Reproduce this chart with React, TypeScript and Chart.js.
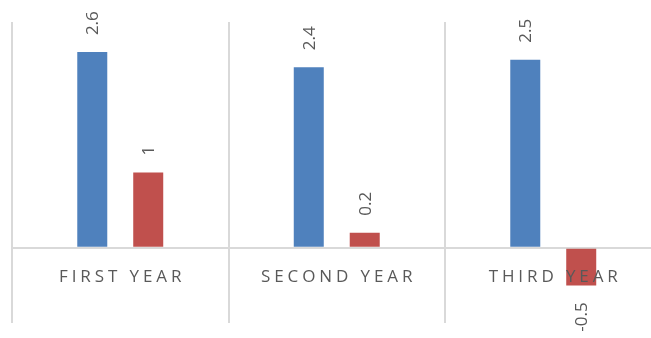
import React, { useEffect, useRef } from "react";
import { Chart, registerables } from "chart.js";

Chart.register(...registerables);

const categories = ["FIRST YEAR", "SECOND YEAR", "THIRD YEAR"];
const seriesBlue = [2.6, 2.4, 2.5];
const seriesRed = [1, 0.2, -0.5];
const yMin = -1;
const yMax = 3;

const TEXT_COLOR = "#595959";
const GRID_COLOR = "#D9D9D9";
const FONT_FAMILY = "'Open Sans', sans-serif";
const LETTER_SPACING = 3.9;

const labelPlugin = {
  id: "customLabels",
  afterDatasetsDraw(chart: any) {
    const ctx: CanvasRenderingContext2D = chart.ctx;
    const xScale = chart.scales.x;
    const yScale = chart.scales.y;
    const zeroY = yScale.getPixelForValue(0);
    ctx.save();
    ctx.fillStyle = TEXT_COLOR;
    ctx.font = `17px ${FONT_FAMILY}`;
    chart.data.datasets.forEach((ds: any, di: number) => {
      const meta = chart.getDatasetMeta(di);
      meta.data.forEach((bar: any, i: number) => {
        const v = ds.data[i];
        const text = String(v);
        ctx.save();
        if (v >= 0) {
          ctx.translate(bar.x, bar.y - 17);
          ctx.rotate(-Math.PI / 2);
          ctx.textAlign = "left";
        } else {
          ctx.translate(bar.x, bar.y + 17);
          ctx.rotate(-Math.PI / 2);
          ctx.textAlign = "right";
        }
        ctx.textBaseline = "middle";
        ctx.fillText(text, 0, 1);
        ctx.restore();
      });
    });
    ctx.font = `17px ${FONT_FAMILY}`;
    (ctx as any).letterSpacing = `${LETTER_SPACING}px`;
    ctx.textAlign = "center";
    ctx.textBaseline = "alphabetic";
    categories.forEach((c, i) => {
      const x = xScale.getPixelForValue(i) + LETTER_SPACING / 2;
      ctx.fillText(c, x, zeroY + 34);
    });
    ctx.restore();
  },
};

export default function App() {
  const ref = useRef<HTMLCanvasElement | null>(null);
  useEffect(() => {
    if (!ref.current) return;
    const chart = new Chart(ref.current, {
      type: "bar",
      data: {
        labels: categories,
        datasets: [
          {
            label: "Series 1",
            data: seriesBlue,
            backgroundColor: "#4F81BD",
            categoryPercentage: 0.517,
            barPercentage: 0.536,
          },
          {
            label: "Series 2",
            data: seriesRed,
            backgroundColor: "#C0504D",
            categoryPercentage: 0.517,
            barPercentage: 0.536,
          },
        ],
      },
      options: {
        responsive: false,
        animation: false,
        devicePixelRatio: 1,
        layout: { padding: { left: 12, right: 8.5, top: 22, bottom: 15 } },
        plugins: { legend: { display: false }, tooltip: { enabled: false } },
        scales: {
          x: {
            display: true,
            ticks: { display: false },
            border: { display: false },
            grid: {
              offset: true,
              color: GRID_COLOR,
              lineWidth: 2,
              drawTicks: false,
            },
          },
          y: {
            display: true,
            min: yMin,
            max: yMax,
            ticks: { display: false, stepSize: 1 },
            border: { display: false },
            grid: {
              drawTicks: false,
              lineWidth: 2,
              color: (c: any) => (c.tick && c.tick.value === 0 ? GRID_COLOR : "rgba(0,0,0,0)"),
            },
          },
        },
      },
      plugins: [labelPlugin],
    });
    return () => chart.destroy();
  }, []);
  return (
    <div
      style={{
        position: "fixed",
        left: 0,
        top: 0,
        width: 651,
        height: 338,
        overflow: "hidden",
        background: "#ffffff",
      }}
    >
      <canvas ref={ref} width={670} height={338} style={{ display: "block" }} />
    </div>
  );
}
